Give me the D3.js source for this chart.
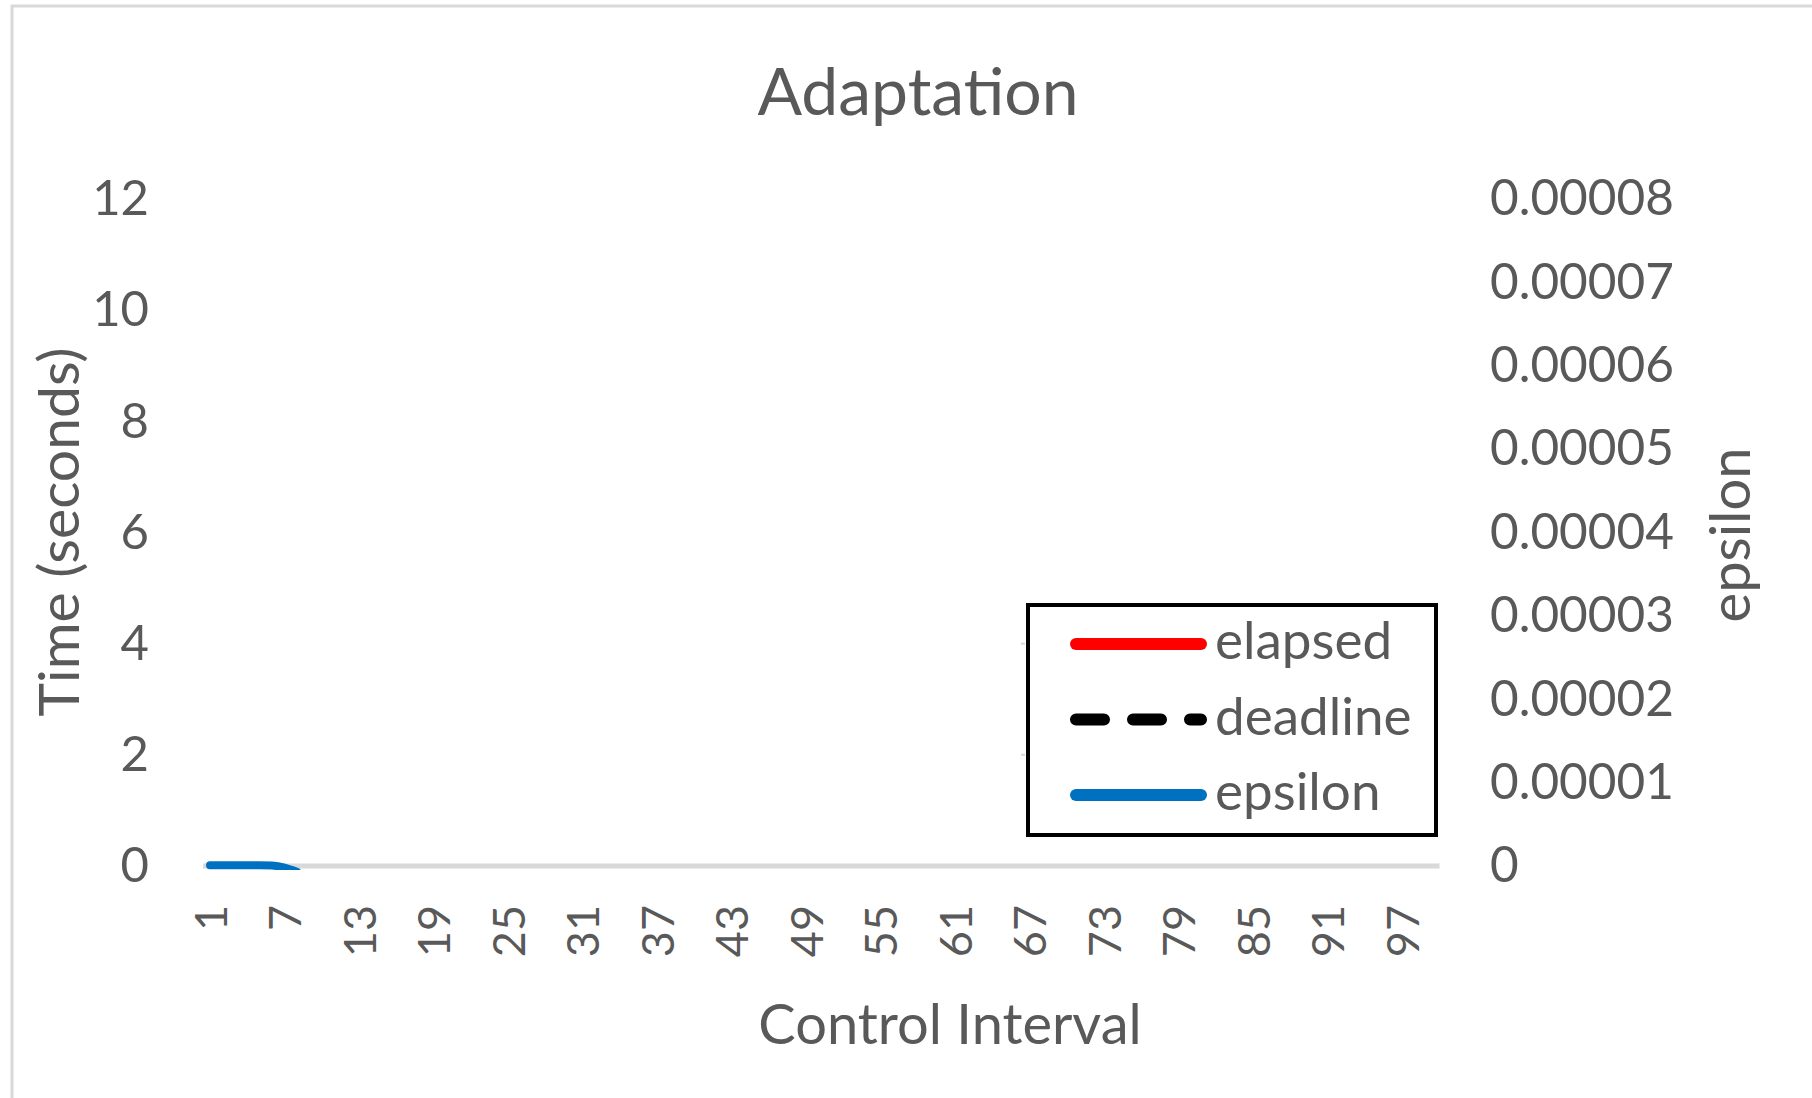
<!DOCTYPE html>
<html>
<head>
<meta charset="utf-8">
<script src="https://cdn.jsdelivr.net/npm/d3@7"></script>
<style>
  html, body { margin: 0; padding: 0; background: #ffffff; }
  svg { display: block; }
  text { font-family: Lato, "Noto Sans", sans-serif; fill: #595959; }
</style>
</head>
<body>
<svg id="chart" width="1812" height="1098"></svg>
<script>
// Control intervals 1..100
const intervals = d3.range(1, 101);
// Series (seconds for elapsed/deadline, raw value for epsilon)
const elapsed = [];
const deadline = [];
const epsilon = [1e-7, 1e-7, 1e-7, 1e-7, 1e-7, 0.5e-7, -2e-7, -7e-7];
// Axis tick values
const timeTicks = [0, 2, 4, 6, 8, 10, 12];
const epsilonTicks = [0, 0.00001, 0.00002, 0.00003, 0.00004, 0.00005, 0.00006, 0.00007, 0.00008];
const intervalTicks = intervals.filter((d, i) => i % 6 === 0);

const svg = d3.select("#chart");

// Chart frame
svg.append("rect")
  .attr("x", 12).attr("y", 6)
  .attr("width", 1900).attr("height", 1200)
  .attr("fill", "#ffffff")
  .attr("stroke", "#d9d9d9").attr("stroke-width", 3);

const plot = { left: 210, right: 1439.5, top: 199, bottom: 866 };

const x = d3.scalePoint().domain(intervals).range([plot.left, plot.right]);
const yTime = d3.scaleLinear().domain([0, 12]).range([plot.bottom, plot.top]);
const yEps = d3.scaleLinear().domain([0, 0.00008]).range([plot.bottom, plot.top]);

// Series are clipped a little below the category axis
svg.append("defs").append("clipPath").attr("id", "plot-clip")
  .append("rect")
  .attr("x", 0).attr("y", plot.top - 10)
  .attr("width", 1812).attr("height", plot.bottom + 4 - (plot.top - 10));

// Title
svg.append("text")
  .attr("x", 918).attr("y", 115)
  .attr("text-anchor", "middle")
  .attr("font-size", 66)
  .text("Adaptation");

// Left axis (time)
const leftAxis = svg.append("g")
  .attr("transform", `translate(${plot.left - 61},0)`)
  .call(d3.axisLeft(yTime).tickValues(timeTicks).tickSize(0).tickPadding(0).tickFormat(d3.format("d")));
leftAxis.select(".domain").remove();
leftAxis.selectAll("text").attr("font-size", 49).attr("fill", "#595959")
  .attr("font-family", "Lato, sans-serif");

// Right axis (epsilon)
const rightAxis = svg.append("g")
  .attr("transform", `translate(1490,0)`)
  .call(d3.axisRight(yEps).tickValues(epsilonTicks).tickSize(0).tickPadding(0)
    .tickFormat(d => d === 0 ? "0" : d.toFixed(5)));
rightAxis.select(".domain").remove();
rightAxis.selectAll("text").attr("font-size", 49.5).attr("fill", "#595959")
  .attr("font-family", "Lato, sans-serif");

// Small gridline stubs left of the legend
svg.append("g").selectAll("line")
  .data([2, 4])
  .join("line")
  .attr("x1", 1021).attr("x2", 1025)
  .attr("y1", d => yTime(d)).attr("y2", d => yTime(d))
  .attr("stroke", "#d9d9d9").attr("stroke-width", 2);

// Category axis line
svg.append("line")
  .attr("x1", plot.left - 7).attr("x2", plot.right)
  .attr("y1", plot.bottom).attr("y2", plot.bottom)
  .attr("stroke", "#d9d9d9").attr("stroke-width", 5);

// Category axis labels (rotated)
const bottomAxis = svg.append("g")
  .attr("transform", `translate(0,${plot.bottom})`)
  .call(d3.axisBottom(x).tickValues(intervalTicks).tickSize(0).tickPadding(0));
bottomAxis.select(".domain").remove();
bottomAxis.selectAll("text")
  .attr("font-size", 45).attr("fill", "#595959")
  .attr("font-family", "Lato, sans-serif")
  .attr("text-anchor", "end")
  .attr("transform", "rotate(-90)")
  .attr("x", -39).attr("y", 0).attr("dy", "0.36em");

// Axis titles
svg.append("text")
  .attr("transform", "translate(79,532) rotate(-90)")
  .attr("text-anchor", "middle")
  .attr("font-size", 57)
  .text("Time (seconds)");

svg.append("text")
  .attr("transform", "translate(1750,535) rotate(-90)")
  .attr("text-anchor", "middle")
  .attr("font-size", 56)
  .text("epsilon");

svg.append("text")
  .attr("x", 950).attr("y", 1044)
  .attr("text-anchor", "middle")
  .attr("font-size", 56)
  .text("Control Interval");

// Series lines
const timeLine = d3.line().x((d, i) => x(intervals[i])).y(d => yTime(d)).curve(d3.curveMonotoneX);
const epsLine = d3.line().x((d, i) => x(intervals[i])).y(d => yEps(d)).curve(d3.curveMonotoneX);

const series = [
  { name: "elapsed", values: elapsed, line: timeLine, color: "#ff0000", dash: null },
  { name: "deadline", values: deadline, line: timeLine, color: "#000000", dash: "28,29" },
  { name: "epsilon", values: epsilon, line: epsLine, color: "#0070c0", dash: null }
];

svg.append("g").attr("clip-path", "url(#plot-clip)")
  .selectAll("path")
  .data(series.filter(s => s.values.length > 0))
  .join("path")
  .attr("d", s => s.line(s.values))
  .attr("fill", "none")
  .attr("stroke", s => s.color)
  .attr("stroke-width", 8)
  .attr("stroke-linecap", "round")
  .attr("stroke-dasharray", s => s.dash);

// Legend
const legend = svg.append("g");
legend.append("rect")
  .attr("x", 1028).attr("y", 605)
  .attr("width", 408).attr("height", 230)
  .attr("fill", "#ffffff")
  .attr("stroke", "#000000").attr("stroke-width", 4);

const rows = legend.selectAll("g.row")
  .data(series)
  .join("g")
  .attr("class", "row")
  .attr("transform", (d, i) => `translate(0,${644 + i * 75.5})`);

rows.append("line")
  .attr("x1", 1076).attr("x2", 1201)
  .attr("y1", 0).attr("y2", 0)
  .attr("stroke", d => d.color)
  .attr("stroke-width", 12)
  .attr("stroke-linecap", "round")
  .attr("stroke-dasharray", d => d.dash);

rows.append("text")
  .attr("x", 1215).attr("y", 15)
  .attr("font-size", 53)
  .text(d => d.name);
</script>
</body>
</html>
